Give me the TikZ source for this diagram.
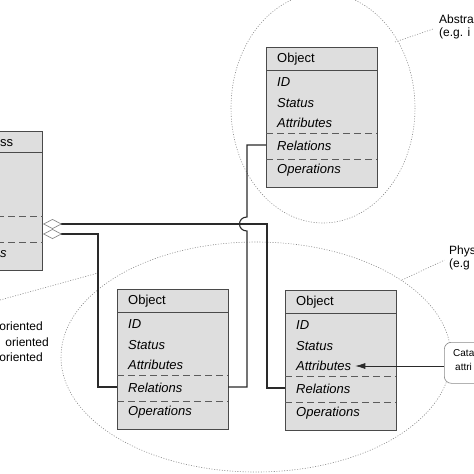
\documentclass[tikz,border=0pt]{standalone}
\usepackage{fontspec}
\setmainfont{Liberation Sans}
\usetikzlibrary{arrows.meta}

\definecolor{boxfill}{HTML}{DEDEDE}
\definecolor{boxline}{HTML}{4A4A4A}
\definecolor{linkline}{HTML}{2A2A2A}
\definecolor{haloline}{HTML}{8A8A8A}

\begin{document}
\begin{tikzpicture}[x=1pt, y=-1pt,
    box/.style={draw=boxline, fill=boxfill, line width=0.9pt},
    rule/.style={draw=boxline, line width=0.9pt},
    sep/.style={draw=boxline!90, line width=0.8pt, dash pattern=on 7pt off 4pt},
    txt/.style={anchor=west, inner sep=0pt, font=\fontsize{13}{15}\selectfont},
    link/.style={draw=linkline, line width=1.1pt},
    halo/.style={draw=haloline, line width=0.6pt, dash pattern=on 1pt off 1.6pt},
    lbl/.style={anchor=west, align=left, inner sep=0pt, font=\fontsize{12}{13}\selectfont}]
    \useasboundingbox (0,0) rectangle (474,474);
    \clip (0,0) rectangle (474,474);

    % dotted groupings
    \draw[halo] (323,108) ellipse [x radius=92, y radius=115];
    \draw[halo] (256,357) ellipse [x radius=195, y radius=115];
    \draw[halo] (0,300) -- (98,273);

    % class box, cut at the left
    \node[box, anchor=north east, minimum width=123pt, minimum height=139pt, inner sep=0pt] (cls) at (43,131) {};
    \draw[rule] (-80,152) -- (43,152);
    \draw[sep] (-80,216) -- (43,216);
    \draw[sep] (-80,242) -- (43,242);
    \node[txt] (cls-name) at (0,143) {ss};
    \node[txt] (cls-ops) at (0,254) {\textit{s}};
    \coordinate (cls-agg1) at (43,224);
    \coordinate (cls-agg2) at (43,234);

    % object boxes
    \foreach \nm/\bx/\by in {absobj/266/47, leftobj/117/289, rightobj/285/290} {
        \node[box, anchor=north west, minimum width=111pt, minimum height=140pt, inner sep=0pt] (\nm) at (\bx,\by) {};
        \draw[rule] (\bx,\by+23) -- (\bx+111,\by+23);
        \draw[sep] (\bx,\by+86) -- (\bx+111,\by+86);
        \draw[sep] (\bx,\by+112) -- (\bx+111,\by+112);
        \node[txt] (\nm-name) at (\bx+11,\by+12.5) {Object};
        \node[txt] (\nm-id) at (\bx+11,\by+35) {\textit{ID}};
        \node[txt] (\nm-stat) at (\bx+11,\by+56) {\textit{Status}};
        \node[txt] (\nm-attr) at (\bx+11,\by+76) {\textit{Attributes}};
        \node[txt] (\nm-rel) at (\bx+11,\by+99) {\textit{Relations}};
        \node[txt] (\nm-ops) at (\bx+11,\by+123) {\textit{Operations}};
        \coordinate (\nm-w) at (\bx,\by+98);
        \coordinate (\nm-e) at (\bx+111,\by+98);
    }

    % relations
    \draw[link, {Diamond[open, fill=white, color=haloline, length=19pt, width=10pt, line width=0.7pt]}-]
        (cls-agg1) -- ++(224,0) |- (rightobj-w);
    \draw[link, {Diamond[open, fill=white, color=haloline, length=19pt, width=10pt, line width=0.7pt]}-]
        (cls-agg2) -- ++(55,0) |- (leftobj-w);
    \draw[link] (absobj-w) -- ++(-19,0) -- (247,217)
        .. controls (237,217) and (237,231) .. (247,231) |- (leftobj-e);

    % side labels
    \node[lbl] (abs-lbl) at (439,27) {Abstra\\(e.g. i};
    \node[lbl] (phys-lbl) at (449,258) {Phys\\(e.g};
    \draw[halo, shorten >=5pt] (395,42) -- (abs-lbl.west);
    \draw[halo, shorten >=5pt] (402,280) -- (phys-lbl.west);
    \node[lbl, anchor=east] (orient1) at (43,326) {oriented};
    \node[lbl, anchor=east] (orient2) at (49,342) {oriented};
    \node[lbl, anchor=east] (orient3) at (43,357) {oriented};

    % note
    \node[draw=haloline, fill=white, rounded corners=7pt, line width=0.6pt, anchor=north west,
          minimum width=60pt, minimum height=41pt] (note) at (444,342) {};
    \node[anchor=west, inner sep=0pt, font=\fontsize{10}{12}\selectfont] (note-l1) at (453,353) {Cata};
    \node[anchor=west, inner sep=0pt, font=\fontsize{10}{12}\selectfont] (note-l2) at (455,367) {attri};
    \draw[draw=linkline, line width=0.7pt, -{Latex[length=10pt, width=6pt]}]
        (note.west |- rightobj-attr.east) -- ([xshift=4pt]rightobj-attr.east);
\end{tikzpicture}
\end{document}
